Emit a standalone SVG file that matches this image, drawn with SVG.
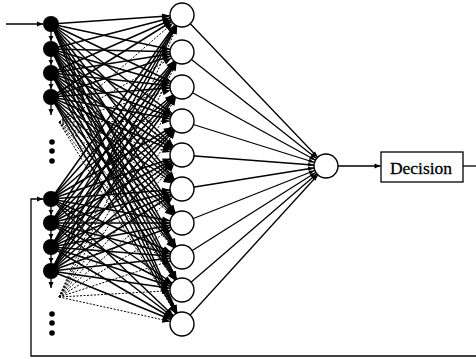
<svg xmlns="http://www.w3.org/2000/svg" width="476" height="359" viewBox="0 0 476 359">
  <style>
    .w { stroke: #000; stroke-width: 1.3; fill: none; }
    .syn line { stroke: #000; stroke-width: 1.5; marker-end: url(#hh); }
    .dsh line { stroke: #000; stroke-width: 1; stroke-dasharray: 2 1.5; marker-end: url(#hh); }
    .out line { stroke: #000; stroke-width: 1.3; marker-end: url(#ho); }
    .chain line { stroke: #000; stroke-width: 1.3; marker-end: url(#hi); }
    .inp { fill: #000; }
    .hid, .o { fill: #fff; stroke: #000; stroke-width: 1.4; }
    .lbl { font-family: "Liberation Serif", "Times New Roman", serif; font-size: 17.5px; fill: #000; stroke: #000; stroke-width: 0.3; }
  </style>
  <defs>
    <!-- arrowhead stopping on the rim of a hidden unit (r = 12) -->
    <marker id="hh" markerUnits="userSpaceOnUse" markerWidth="40" markerHeight="10" refX="20" refY="3" orient="auto" overflow="visible">
      <path d="M0,0 L8,3 L0,6 z" fill="#000"/>
    </marker>
    <!-- arrowhead stopping on the rim of the output unit (r = 12) -->
    <marker id="ho" markerUnits="userSpaceOnUse" markerWidth="40" markerHeight="10" refX="18" refY="2" orient="auto" overflow="visible">
      <path d="M0,0 L6,2 L0,4 z" fill="#000"/>
    </marker>
    <!-- arrowhead stopping on the rim of an input unit (r = 8) -->
    <marker id="hi" markerUnits="userSpaceOnUse" markerWidth="20" markerHeight="10" refX="13" refY="2.5" orient="auto" overflow="visible">
      <path d="M0,0 L5,2.5 L0,5 z" fill="#000"/>
    </marker>
    <!-- plain arrowhead at line end -->
    <marker id="ha" markerUnits="userSpaceOnUse" markerWidth="10" markerHeight="10" refX="6" refY="2.5" orient="auto" overflow="visible">
      <path d="M0,0 L6,2.5 L0,5 z" fill="#000"/>
    </marker>
  </defs>

  <g id="connectors">
    <!-- input to hidden synapses -->
    <g class="syn">
      <line x1="51" y1="24" x2="182" y2="15"/><line x1="51" y1="24" x2="182" y2="52"/><line x1="51" y1="24" x2="182" y2="87"/><line x1="51" y1="24" x2="182" y2="121"/><line x1="51" y1="24" x2="182" y2="155"/><line x1="51" y1="24" x2="182" y2="189"/><line x1="51" y1="24" x2="182" y2="223"/><line x1="51" y1="24" x2="182" y2="257"/><line x1="51" y1="24" x2="182" y2="290"/><line x1="51" y1="24" x2="182" y2="324"/>
      <line x1="51" y1="49" x2="182" y2="15"/><line x1="51" y1="49" x2="182" y2="52"/><line x1="51" y1="49" x2="182" y2="87"/><line x1="51" y1="49" x2="182" y2="121"/><line x1="51" y1="49" x2="182" y2="155"/><line x1="51" y1="49" x2="182" y2="189"/><line x1="51" y1="49" x2="182" y2="223"/><line x1="51" y1="49" x2="182" y2="257"/><line x1="51" y1="49" x2="182" y2="290"/><line x1="51" y1="49" x2="182" y2="324"/>
      <line x1="51" y1="73" x2="182" y2="15"/><line x1="51" y1="73" x2="182" y2="52"/><line x1="51" y1="73" x2="182" y2="87"/><line x1="51" y1="73" x2="182" y2="121"/><line x1="51" y1="73" x2="182" y2="155"/><line x1="51" y1="73" x2="182" y2="189"/><line x1="51" y1="73" x2="182" y2="223"/><line x1="51" y1="73" x2="182" y2="257"/><line x1="51" y1="73" x2="182" y2="290"/><line x1="51" y1="73" x2="182" y2="324"/>
      <line x1="51" y1="97" x2="182" y2="15"/><line x1="51" y1="97" x2="182" y2="52"/><line x1="51" y1="97" x2="182" y2="87"/><line x1="51" y1="97" x2="182" y2="121"/><line x1="51" y1="97" x2="182" y2="155"/><line x1="51" y1="97" x2="182" y2="189"/><line x1="51" y1="97" x2="182" y2="223"/><line x1="51" y1="97" x2="182" y2="257"/><line x1="51" y1="97" x2="182" y2="290"/><line x1="51" y1="97" x2="182" y2="324"/>
      <line x1="51" y1="199" x2="182" y2="15"/><line x1="51" y1="199" x2="182" y2="52"/><line x1="51" y1="199" x2="182" y2="87"/><line x1="51" y1="199" x2="182" y2="121"/><line x1="51" y1="199" x2="182" y2="155"/><line x1="51" y1="199" x2="182" y2="189"/><line x1="51" y1="199" x2="182" y2="223"/><line x1="51" y1="199" x2="182" y2="257"/><line x1="51" y1="199" x2="182" y2="290"/><line x1="51" y1="199" x2="182" y2="324"/>
      <line x1="51" y1="223" x2="182" y2="15"/><line x1="51" y1="223" x2="182" y2="52"/><line x1="51" y1="223" x2="182" y2="87"/><line x1="51" y1="223" x2="182" y2="121"/><line x1="51" y1="223" x2="182" y2="155"/><line x1="51" y1="223" x2="182" y2="189"/><line x1="51" y1="223" x2="182" y2="223"/><line x1="51" y1="223" x2="182" y2="257"/><line x1="51" y1="223" x2="182" y2="290"/><line x1="51" y1="223" x2="182" y2="324"/>
      <line x1="51" y1="247" x2="182" y2="15"/><line x1="51" y1="247" x2="182" y2="52"/><line x1="51" y1="247" x2="182" y2="87"/><line x1="51" y1="247" x2="182" y2="121"/><line x1="51" y1="247" x2="182" y2="155"/><line x1="51" y1="247" x2="182" y2="189"/><line x1="51" y1="247" x2="182" y2="223"/><line x1="51" y1="247" x2="182" y2="257"/><line x1="51" y1="247" x2="182" y2="290"/><line x1="51" y1="247" x2="182" y2="324"/>
      <line x1="51" y1="271" x2="182" y2="15"/><line x1="51" y1="271" x2="182" y2="52"/><line x1="51" y1="271" x2="182" y2="87"/><line x1="51" y1="271" x2="182" y2="121"/><line x1="51" y1="271" x2="182" y2="155"/><line x1="51" y1="271" x2="182" y2="189"/><line x1="51" y1="271" x2="182" y2="223"/><line x1="51" y1="271" x2="182" y2="257"/><line x1="51" y1="271" x2="182" y2="290"/><line x1="51" y1="271" x2="182" y2="324"/>
    </g>
    <!-- synapses from the elided input units -->
    <g class="dsh">
      <line x1="59" y1="122" x2="182" y2="15"/><line x1="59" y1="122" x2="182" y2="52"/><line x1="59" y1="122" x2="182" y2="87"/><line x1="59" y1="122" x2="182" y2="121"/><line x1="59" y1="122" x2="182" y2="155"/><line x1="59" y1="122" x2="182" y2="189"/><line x1="59" y1="122" x2="182" y2="223"/><line x1="59" y1="122" x2="182" y2="257"/><line x1="59" y1="122" x2="182" y2="290"/><line x1="59" y1="122" x2="182" y2="324"/>
      <line x1="59" y1="297" x2="182" y2="15"/><line x1="59" y1="297" x2="182" y2="52"/><line x1="59" y1="297" x2="182" y2="87"/><line x1="59" y1="297" x2="182" y2="121"/><line x1="59" y1="297" x2="182" y2="155"/><line x1="59" y1="297" x2="182" y2="189"/><line x1="59" y1="297" x2="182" y2="223"/><line x1="59" y1="297" x2="182" y2="257"/><line x1="59" y1="297" x2="182" y2="290"/><line x1="59" y1="297" x2="182" y2="324"/>
    </g>
    <!-- hidden to output -->
    <g class="out">
      <line x1="182" y1="15" x2="326" y2="166"/><line x1="182" y1="52" x2="326" y2="166"/><line x1="182" y1="87" x2="326" y2="166"/><line x1="182" y1="121" x2="326" y2="166"/><line x1="182" y1="155" x2="326" y2="166"/><line x1="182" y1="189" x2="326" y2="166"/><line x1="182" y1="223" x2="326" y2="166"/><line x1="182" y1="257" x2="326" y2="166"/><line x1="182" y1="290" x2="326" y2="166"/><line x1="182" y1="324" x2="326" y2="166"/>
    </g>
    <!-- tapped delay line between input units -->
    <g class="chain">
      <line x1="51" y1="24" x2="51" y2="49"/><line x1="51" y1="49" x2="51" y2="73"/><line x1="51" y1="73" x2="51" y2="97"/>
      <line x1="51" y1="199" x2="51" y2="223"/><line x1="51" y1="223" x2="51" y2="247"/><line x1="51" y1="247" x2="51" y2="271"/>
    </g>
    <path class="w" d="M51,105 V115" marker-end="url(#ha)"/>
    <path class="w" d="M51,279 V288" marker-end="url(#ha)"/>
    <!-- signal in, output to decision, feedback loop -->
    <path class="w" d="M6,24 H43" marker-end="url(#ha)"/>
    <path class="w" d="M338,166 H380.5" marker-end="url(#ha)"/>
    <path class="w" d="M463,166 H476"/>
    <path class="w" d="M476,356 H31 V199 H43" marker-end="url(#ha)"/>
  </g>

  <g id="input-units">
    <circle class="inp" cx="51" cy="24" r="8"/>
    <circle class="inp" cx="51" cy="49" r="8"/>
    <circle class="inp" cx="51" cy="73" r="8"/>
    <circle class="inp" cx="51" cy="97" r="8"/>
    <circle class="inp" cx="51" cy="199" r="8"/>
    <circle class="inp" cx="51" cy="223" r="8"/>
    <circle class="inp" cx="51" cy="247" r="8"/>
    <circle class="inp" cx="51" cy="271" r="8"/>
  </g>
  <g id="ellipsis-top">
    <circle class="inp" cx="52" cy="142" r="2.8"/>
    <circle class="inp" cx="52" cy="151" r="2.8"/>
    <circle class="inp" cx="52" cy="161" r="2.8"/>
  </g>
  <g id="ellipsis-bottom">
    <circle class="inp" cx="52" cy="314" r="2.8"/>
    <circle class="inp" cx="52" cy="323" r="2.8"/>
    <circle class="inp" cx="52" cy="333" r="2.8"/>
  </g>

  <g id="hidden-units">
    <circle class="hid" cx="182" cy="15" r="12"/>
    <circle class="hid" cx="182" cy="52" r="12"/>
    <circle class="hid" cx="182" cy="87" r="12"/>
    <circle class="hid" cx="182" cy="121" r="12"/>
    <circle class="hid" cx="182" cy="155" r="12"/>
    <circle class="hid" cx="182" cy="189" r="12"/>
    <circle class="hid" cx="182" cy="223" r="12"/>
    <circle class="hid" cx="182" cy="257" r="12"/>
    <circle class="hid" cx="182" cy="290" r="12"/>
    <circle class="hid" cx="182" cy="324" r="12"/>
  </g>

  <g id="output-unit">
    <circle class="o" cx="326" cy="166" r="12"/>
  </g>

  <g id="decision">
    <rect x="381" y="152" width="82" height="30" fill="#fff" stroke="#000" stroke-width="1.3"/>
    <text class="lbl" x="421" y="173.5" text-anchor="middle">Decision</text>
  </g>
</svg>
